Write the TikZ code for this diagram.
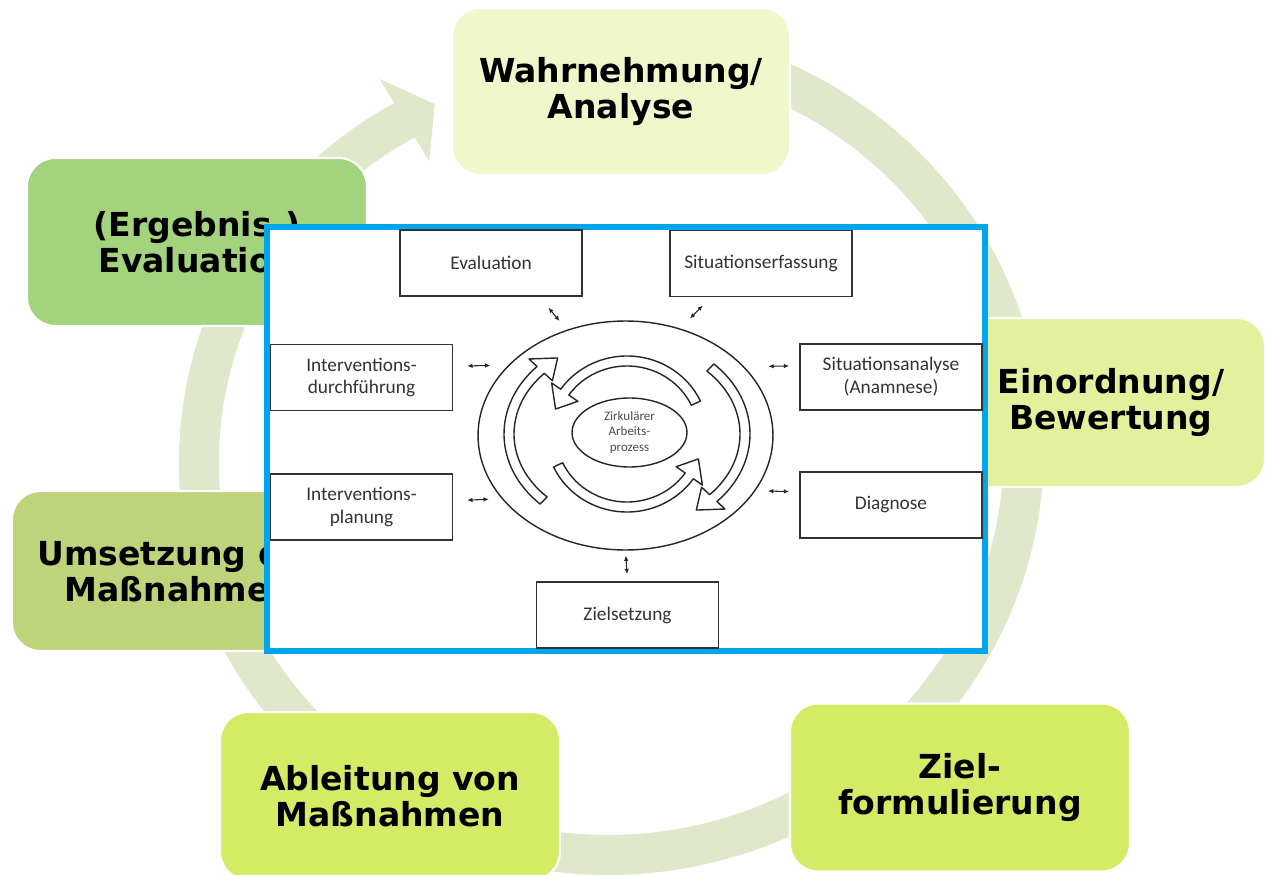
\documentclass[tikz,border=0pt]{standalone}
\usepackage{fontspec}
\setmainfont{DejaVu Sans}
\newfontfamily\calibri{Carlito}
\usepackage{tikz}
\usetikzlibrary{calc,positioning,arrows,arrows.meta,shapes.geometric}
\definecolor{ringgreen}{RGB}{223,232,202}
\definecolor{phaseA}{RGB}{239,247,203}
\definecolor{phaseB}{RGB}{227,241,156}
\definecolor{phaseC}{RGB}{212,235,102}
\definecolor{phaseD}{RGB}{189,212,123}
\definecolor{phaseE}{RGB}{163,211,125}
\definecolor{frameblue}{RGB}{0,166,237}
\tikzset{
    >={Latex[length=3pt,width=2.6pt]},
    phase/.style={
        rectangle,
        rounded corners=16pt,
        draw=white, line width=1.2pt,
        minimum width=6.8cm,
        minimum height=3.36cm,
        align=center,
        font={\bfseries\fontsize{18.8pt}{20.5pt}\selectfont}
    },
    stage/.style={
        rectangle,
        draw=black!80, line width=1pt,
        minimum width=3.64cm,
        minimum height=1.32cm,
        align=center,
        text=black!80,
        font={\calibri\fontsize{11pt}{13pt}\selectfont}
    },
    band/.style={draw=black!85, line width=0.8pt, fill=white, line join=round},
    twoway/.style={<->, line width=0.6pt, black!85},
}
% curved block arrow: radii, start, head base, tip
\newcommand{\bogenpfeil}[5]{%
    \draw[band] ({#3}:{#1+5} and {#2+5})
        arc[start angle=#3, end angle=#4, x radius=#1+5, y radius=#2+5]
        -- ({#4}:{#1+16} and {#2+16}) -- ({#5}:{#1} and {#2})
        -- ({#4}:{#1-16} and {#2-16}) -- ({#4}:{#1-5} and {#2-5})
        arc[start angle=#4, end angle=#3, x radius=#1-5, y radius=#2-5] -- cycle;}

\begin{document}
\begin{tikzpicture}[x=0.02cm, y=0.02cm]
    \useasboundingbox (0,0) rectangle (1265,-875);

    % the big cycle arrow behind the phases
    \begin{scope}[shift={(608,-450)}]
        \fill[ringgreen] plot[domain=80:-239, samples=160, variable=\t]
              ({(416*(1-0.05*max(0,-150-(\t))/89)+20)*cos(\t)},
               {(405*(1-0.05*max(0,-150-(\t))/89)+20)*sin(\t)})
            -- (121:443.2 and 432.8) -- (116:395.2 and 384.8) -- (121:347.2 and 336.8)
            -- plot[domain=-239:80, samples=160, variable=\t]
              ({(416*(1-0.05*max(0,-150-(\t))/89)-20)*cos(\t)},
               {(405*(1-0.05*max(0,-150-(\t))/89)-20)*sin(\t)})
            -- cycle;
    \end{scope}

    \node[phase, fill=phaseA, minimum width=6.76cm, minimum height=3.34cm] (p0) at (621,-91.5) {Wahrnehmung/\\Analyse};
    \node[phase, fill=phaseB, minimum width=6.16cm, minimum height=3.38cm] (p1) at (1111,-402.5) {Einordnung/\\Bewertung};
    \node[phase, fill=phaseC] (p2) at (960,-787.5) {Ziel-\\formulierung};
    \node[phase, fill=phaseC] (p3) at (390,-796) {Ableitung von\\Maßnahmen};
    \node[phase, fill=phaseD, minimum width=6.68cm, minimum height=3.2cm] (p4) at (179,-571) {Umsetzung der\\Maßnahmen};
    \node[phase, fill=phaseE] (p5) at (197,-242) {(Ergebnis-)\\Evaluation};

    % the inserted picture
    \node[draw=frameblue, line width=3.4pt, fill=white, minimum width=14.36cm,
          minimum height=8.48cm, inner sep=0pt] (b0) at (626,-439) {};

    \node[ellipse, draw=black!85, line width=0.8pt, minimum width=5.9cm,
          minimum height=4.58cm, inner sep=0pt] (e0) at (625.5,-435.5) {};
    \node[ellipse, draw=black!85, line width=0.8pt, minimum width=2.3cm,
          minimum height=1.38cm, inner sep=0pt, align=center, text=black!70,
          font={\calibri\fontsize{7.4pt}{8.6pt}\selectfont}] (e1) at (629.5,-432.5) {Zirkulärer\\Arbeits-\\prozess};

    \begin{scope}[shift={(627,-434)}]
        \bogenpfeil{118}{94}{225}{137}{126}
        \bogenpfeil{118}{94}{45}{-43}{-54}
        \bogenpfeil{76}{73}{25}{145}{160}
        \bogenpfeil{76}{73}{205}{325}{340}
    \end{scope}

    \node[stage] (k0) at (491,-263) {Evaluation};
    \node[stage] (k1) at (761,-263.5) {Situationserfassung};
    \node[stage] (k2) at (361.5,-377.5) {Interventions-\\durchführung};
    \node[stage, below=1.24cm of k2] (k3) {Interventions-\\planung};
    \node[stage] (k4) at (891,-377) {Situationsanalyse\\(Anamnese)};
    \node[stage, below=1.2cm of k4] (k5) {Diagnose};
    \node[stage] (k6) at (627.5,-615) {Zielsetzung};

    \draw[twoway, shorten <=8pt, shorten >=6.5pt] (k0.-35) -- (e0.119.4);
    \draw[twoway, shorten <=6.5pt, shorten >=8pt] (k1.-146.4) -- (e0.63.3);
    \draw[twoway, shorten <=7.9pt, shorten >=10.2pt] (k2.7.2) -- (e0.149.4);
    \draw[twoway, shorten <=7.9pt, shorten >=7.3pt] (k3.4.1) -- (e0.207.4);
    \draw[twoway, shorten <=5.7pt, shorten >=13.6pt] (k4.173.1) -- (e0.30.6);
    \draw[twoway, shorten <=5.7pt, shorten >=7.1pt] (k5.172.5) -- (e0.-23.3);
    \draw[twoway, shorten <=4pt, shorten >=2.8pt] (k6.north) -- (e0.south);
\end{tikzpicture}
\end{document}
